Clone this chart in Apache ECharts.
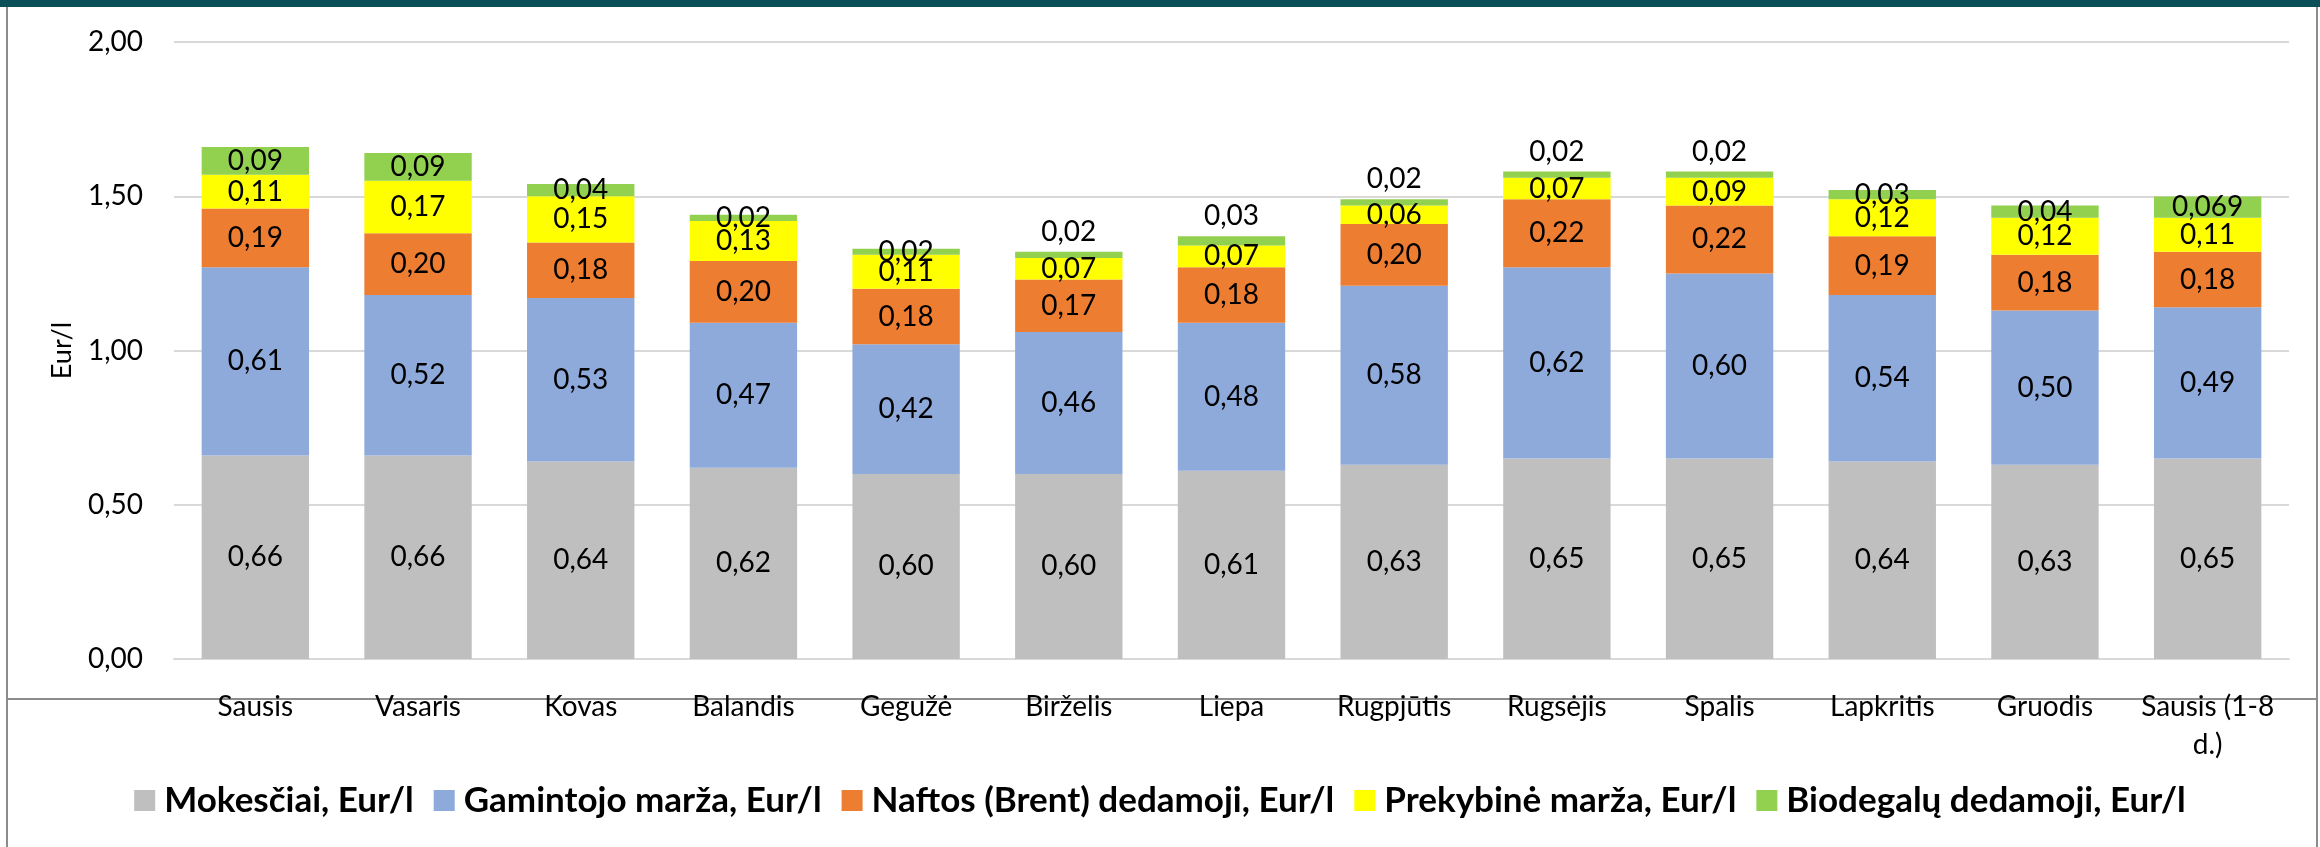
<!DOCTYPE html>
<html>
<head>
<meta charset="utf-8">
<title>Kainos struktūra</title>
<script src="https://cdn.jsdelivr.net/npm/echarts@6/dist/echarts.min.js"></script>
<style>
	* {
		margin: 0;
		padding: 0;
	}

	body {
		background: #fff;
	}

	#chart {
		width: 2320px;
		height: 847px;
	}
</style>
</head>
<body>
<div id="chart"></div>
<script>
	// mėnesiai
	const categories = ['Sausis', 'Vasaris', 'Kovas', 'Balandis', 'Gegužė', 'Birželis', 'Liepa',
		'Rugpjūtis', 'Rugsėjis', 'Spalis', 'Lapkritis', 'Gruodis', 'Sausis (1-8 d.)'];

	const mokesciai = [0.66, 0.66, 0.64, 0.62, 0.60, 0.60, 0.61, 0.63, 0.65, 0.65, 0.64, 0.63, 0.65];
	const gamintojoMarza = [0.61, 0.52, 0.53, 0.47, 0.42, 0.46, 0.48, 0.58, 0.62, 0.60, 0.54, 0.50, 0.49];
	const naftosDedamoji = [0.19, 0.20, 0.18, 0.20, 0.18, 0.17, 0.18, 0.20, 0.22, 0.22, 0.19, 0.18, 0.18];
	const prekybineMarza = [0.11, 0.17, 0.15, 0.13, 0.11, 0.07, 0.07, 0.06, 0.07, 0.09, 0.12, 0.12, 0.11];
	const biodegaluDedamoji = [0.09, 0.09, 0.04, 0.02, 0.02, 0.02, 0.03, 0.02, 0.02, 0.02, 0.03, 0.04, 0.069];

	const yTicks = [0, 0.5, 1, 1.5, 2];

	const FONT = 'Lato, "Open Sans", sans-serif';

	// 0,66 / 0,069 - kablelis kaip Excel'yje
	function fmt(v) {
		const dec = (String(v).split('.')[1] || '').length;
		return v.toFixed(Math.max(2, dec)).replace('.', ',');
	}

	function makeSeries(name, data, color) {
		return {
			name: name,
			type: 'bar',
			stack: 'all',
			barCategoryGap: '34%',
			data: data,
			itemStyle: {
				color: color
			},
			label: {
				show: true,
				position: 'inside',
				color: '#000',
				fontFamily: FONT,
				fontSize: 28,
				formatter: p => fmt(p.value)
			},
			emphasis: {
				disabled: true
			}
		};
	}

	const chart = echarts.init(document.getElementById('chart'));

	// plonas biodegalų segmentas virš mažos prekybinės maržos - etiketė virš stulpelio
	const bioData = biodegaluDedamoji.map((v, i) => {
		if (v <= 0.03 && prekybineMarza[i] <= 0.09) {
			return {
				value: v,
				label: {
					position: 'top',
					distance: 6
				}
			};
		}
		return v;
	});

	const option = {
		animation: false,
		backgroundColor: '#fff',
		textStyle: {
			fontFamily: FONT
		},
		grid: {
			left: 174,
			right: 31,
			top: 42,
			bottom: 188,
			containLabel: false
		},
		legend: {
			bottom: 24,
			left: 'center',
			icon: 'rect',
			itemWidth: 21,
			itemHeight: 21,
			itemGap: 20,
			textStyle: {
				fontFamily: FONT,
				fontSize: 35,
				fontWeight: 'bold',
				color: '#000',
				padding: [0, 0, 0, 4]
			}
		},
		xAxis: {
			type: 'category',
			data: categories,
			axisTick: {
				show: false
			},
			axisLine: {
				lineStyle: {
					color: '#d9d9d9',
					width: 2
				}
			},
			axisLabel: {
				color: '#000',
				fontFamily: FONT,
				fontSize: 28,
				margin: 29,
				lineHeight: 38,
				interval: 0,
				formatter: v => v.replace(' d.)', '\nd.)')
			}
		},
		yAxis: {
			type: 'value',
			min: yTicks[0],
			max: yTicks[yTicks.length - 1],
			interval: 0.5,
			name: 'Eur/l',
			nameLocation: 'middle',
			nameGap: 98,
			nameTextStyle: {
				color: '#000',
				fontFamily: FONT,
				fontSize: 27
			},
			axisLabel: {
				color: '#000',
				fontFamily: FONT,
				fontSize: 28,
				margin: 31,
				formatter: v => v.toFixed(2).replace('.', ',')
			},
			splitLine: {
				lineStyle: {
					color: '#d9d9d9',
					width: 2
				}
			}
		},
		graphic: [{
				type: 'rect',
				shape: { x: 0, y: 0, width: 2320, height: 7 },
				style: { fill: '#0b4f59' },
				z: 10
			},
			{
				type: 'line',
				shape: { x1: 7, y1: 7, x2: 7, y2: 847 },
				style: { stroke: '#8c8c8c', lineWidth: 2 }
			},
			{
				type: 'line',
				shape: { x1: 2317, y1: 7, x2: 2317, y2: 847 },
				style: { stroke: '#8c8c8c', lineWidth: 2 }
			},
			{
				type: 'line',
				shape: { x1: 7, y1: 699, x2: 2317, y2: 699 },
				style: { stroke: '#8c8c8c', lineWidth: 2 }
			}
		],
		series: [
			makeSeries('Mokesčiai, Eur/l', mokesciai, '#bfbfbf'),
			makeSeries('Gamintojo marža, Eur/l', gamintojoMarza, '#8eaadb'),
			makeSeries('Naftos (Brent) dedamoji, Eur/l', naftosDedamoji, '#ed7d31'),
			makeSeries('Prekybinė marža, Eur/l', prekybineMarza, '#ffff00'),
			makeSeries('Biodegalų dedamoji, Eur/l', bioData, '#92d050')
		]
	};

	option && chart.setOption(option);
</script>
</body>
</html>
